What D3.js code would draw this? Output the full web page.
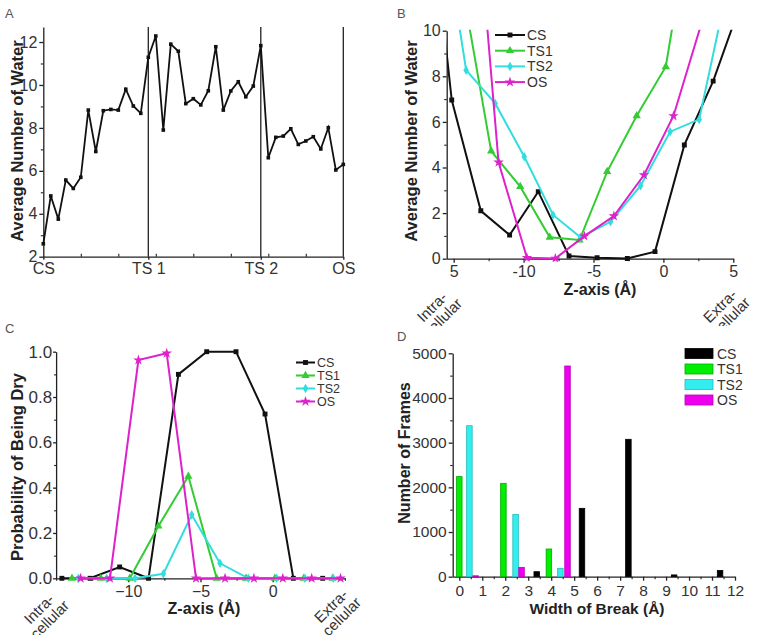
<!DOCTYPE html>
<html><head><meta charset="utf-8">
<script src="https://cdn.jsdelivr.net/npm/d3@7"></script>
<style>body{margin:0;background:#fff}svg{display:block}text{font-family:"Liberation Sans",Arial,sans-serif}</style>
</head><body><svg id="c" width="761" height="635"></svg>
<script>
// ---------- DATA ----------
const seriesNames = ["CS","TS1","TS2","OS"];
const lineColors = ["#111111","#33cc33","#33dddd","#dd22cc"];
const barColors = ["#000000","#00ee00","#33eeee","#ee00ee"];
const barStrokes = ["#000000","#00aa00","#22bbbb","#bb00bb"];

// Panel A
const aCategories = ["CS","TS 1","TS 2","OS"];
const aCategoryIndex = [0,14,29,40];
const aMinorTicks = [5,10,15,20,25,30,35];
const aWater = [2.6,4.83,3.75,5.57,5.18,5.7,8.83,6.9,8.8,8.86,8.83,9.8,9.02,8.68,11.29,12.28,7.9,11.9,11.57,9.13,9.36,9.07,9.73,11.78,8.83,9.72,10.15,9.45,9.95,11.83,6.61,7.56,7.62,7.96,7.23,7.39,7.59,7.02,8.01,6.04,6.3];
const aYTicks = [2,4,6,8,10,12];

// Panel B
const bCsX  = [-17.2,-15.14,-13.06,-11.0,-8.95,-6.75,-4.74,-2.58,-0.6,1.5,3.56,5.6];
const bCsY  = [18.6,6.96,2.1,1.04,2.94,0.12,0.04,0.01,0.31,4.99,7.79,11.3];
const bTs1X = [-14.4,-12.32,-10.24,-8.13,-6.0,-4.02,-1.91,0.17,2.25];
const bTs1Y = [12.0,4.72,3.16,0.94,0.82,3.82,6.27,8.42,16.1];
const bTs2X = [-16.2,-14.11,-12.03,-9.95,-7.89,-5.93,-3.78,-1.63,0.48,2.56,4.64];
const bTs2Y = [16.5,8.27,6.81,4.47,1.92,0.94,1.62,3.2,5.57,6.11,12.06];
const bOsX  = [-13.85,-11.79,-9.76,-7.73,-5.65,-3.54,-1.39,0.72,2.8];
const bOsY  = [19.3,4.23,0.04,0.01,0.99,1.87,3.67,6.26,10.48];
const bXTicks = [-15,-10,-5,0,5];
const bXTickLabels = ["5","-10","-5","0","5"];
const bYTicks = [0,2,4,6,8,10];

// Panel C
const cCsX  = [-14.6,-12.65,-10.6,-8.6,-6.53,-4.57,-2.54,-0.53,1.43,3.46];
const cCsY  = [0,0,0.05,0,0.9,1.0,1.0,0.725,0,0];
const cTs1X = [-13.9,-11.9,-9.9,-7.92,-5.84,-3.88,-1.85,0.15,2.15,4.15];
const cTs1Y = [0,0,0,0.23,0.45,0,0,0,0,0];
const cTs2X = [-13.45,-11.5,-9.53,-7.57,-5.61,-3.65,-1.69,0.27,2.23,4.19];
const cTs2Y = [0,0,0,0.02,0.28,0.066,0,0,0,0];
const cOsX  = [-13.3,-11.27,-9.3,-7.34,-5.31,-3.3,-1.3,0.7,2.7,4.7];
const cOsY  = [0,0,0.963,0.993,0,0,0,0,0,0];
const cXTicks = [-10,-5,0];
const cYTicks = [0,0.2,0.4,0.6,0.8,1.0];

// Panel D
const dCsX  = [3.37,5.34,7.36,9.35,11.35];
const dCsY  = [112,1530,3075,40,140];
const dTs1X = [0,1.92,3.9];
const dTs1Y = [2240,2090,620];
const dTs2X = [0.44,2.45,4.4];
const dTs2Y = [3380,1395,187];
const dOsX  = [0.71,2.71,4.71];
const dOsY  = [20,209,4716];
const dXTicks = [0,1,2,3,4,5,6,7,8,9,10,11,12];
const dYTicks = [0,1000,2000,3000,4000,5000];

// ---------- DRAW ----------
const svg = d3.select("#c");
const symbols = [d3.symbolSquare, d3.symbolTriangle, d3.symbolDiamond, d3.symbolStar];
const symSizes = [24, 30, 26, 34];

function styleAxis(g, fs){
  g.selectAll("path,line").attr("stroke","#222").attr("stroke-width",1.3);
  g.selectAll("text").attr("fill","#333").style("font-size",(fs||16)+"px");
}
function minor(g){ g.select(".domain").remove(); g.selectAll("line").attr("stroke","#222").attr("stroke-width",1.1); }
function rotLabel(cx, cy, l1, l2){
  const t = svg.append("text").attr("transform",`translate(${cx},${cy}) rotate(-45)`)
    .attr("text-anchor","middle").attr("fill","#333").style("font-size","15px");
  t.append("tspan").attr("x",0).attr("dy","0.35em").text(l1);
  t.append("tspan").attr("x",0).attr("dy","1.0em").text(l2);
  return t;
}
function yTitle(cx, cy, txt, fs){
  svg.append("text").attr("transform",`translate(${cx},${cy}) rotate(-90)`)
    .attr("text-anchor","middle").attr("dy","0.35em").attr("font-weight","bold")
    .attr("fill","#222").style("font-size",(fs||16.5)+"px").text(txt);
}
function xTitle(cx, y, txt, fs){
  svg.append("text").attr("x",cx).attr("y",y).attr("text-anchor","middle").attr("font-weight","bold")
    .attr("fill","#222").style("font-size",(fs||16)+"px").text(txt);
}
function panelLetter(x,y,t){
  svg.append("text").attr("x",x).attr("y",y).attr("fill","#555").style("font-size","13px").text(t);
}

// ===== Panel A =====
{
  const x = d3.scaleLinear().domain([0,40]).range([43.3,343.3]);
  const y = d3.scaleLinear().domain([2,12.7]).range([256.7,27]);
  const gx = svg.append("g").attr("transform",`translate(0,${y(2)})`)
    .call(d3.axisBottom(x).tickValues(aCategoryIndex).tickFormat((d,i)=>aCategories[i]).tickSize(3).tickPadding(3).tickSizeOuter(0));
  styleAxis(gx);
  svg.append("g").attr("transform",`translate(0,${y(2)})`)
    .call(d3.axisTop(x).tickValues(aMinorTicks).tickFormat("").tickSize(3)).call(minor);
  const gy = svg.append("g").attr("transform",`translate(${x(0)},0)`)
    .call(d3.axisLeft(y).tickValues(aYTicks).tickSize(4).tickPadding(2).tickSizeOuter(0));
  styleAxis(gy);
  svg.append("g").attr("transform",`translate(${x(0)},0)`)
    .call(d3.axisLeft(y).tickValues([3,5,7,9,11]).tickFormat("").tickSize(2.5)).call(minor);
  svg.selectAll(".vlA").data(aCategoryIndex.slice(1)).enter().append("line")
    .attr("x1",d=>x(d)).attr("x2",d=>x(d)).attr("y1",y(2)).attr("y2",y(12.7))
    .attr("stroke","#222").attr("stroke-width",1.3);
  svg.append("path").datum(aWater)
    .attr("d", d3.line().x((d,i)=>x(i)).y(d=>y(d)))
    .attr("fill","none").attr("stroke","#111").attr("stroke-width",1.8);
  svg.selectAll(".ptA").data(aWater).enter().append("path")
    .attr("transform",(d,i)=>`translate(${x(i)},${y(d)})`)
    .attr("d", d3.symbol().type(d3.symbolSquare).size(13)).attr("fill","#111");
  yTitle(17,141,"Average Number of Water");
  panelLetter(5,18,"A");
}

// ===== Panel B =====
{
  const x = d3.scaleLinear().domain([-15.5,5]).range([446.7,733.3]);
  const y = d3.scaleLinear().domain([0,10]).range([258.7,30.7]);
  svg.append("clipPath").attr("id","clipB").append("rect")
    .attr("x",x(-15.5)).attr("y",y(10)-1).attr("width",x(5)-x(-15.5)).attr("height",y(0)-y(10)+4);
  const gx = svg.append("g").attr("transform",`translate(0,${y(0)})`)
    .call(d3.axisBottom(x).tickValues(bXTicks).tickFormat((d,i)=>bXTickLabels[i]).tickSize(4).tickPadding(3).tickSizeOuter(0));
  styleAxis(gx);
  svg.append("g").attr("transform",`translate(0,${y(0)})`)
    .call(d3.axisBottom(x).tickValues([-12.5,-7.5,-2.5,2.5]).tickFormat("").tickSize(2.5)).call(minor);
  const gy = svg.append("g").attr("transform",`translate(${x(-15.5)},0)`)
    .call(d3.axisLeft(y).tickValues(bYTicks).tickSize(4).tickPadding(2).tickSizeOuter(0));
  styleAxis(gy);
  svg.append("g").attr("transform",`translate(${x(-15.5)},0)`)
    .call(d3.axisLeft(y).tickValues([1,3,5,7,9]).tickFormat("").tickSize(2.5)).call(minor);
  const series = [[bCsX,bCsY],[bTs1X,bTs1Y],[bTs2X,bTs2Y],[bOsX,bOsY]];
  const plot = svg.append("g").attr("clip-path","url(#clipB)");
  series.forEach(([xs,ys],k)=>{
    const pts = xs.map((v,i)=>[v,ys[i]]);
    plot.append("path").datum(pts).attr("d",d3.line().x(d=>x(d[0])).y(d=>y(d[1])))
      .attr("fill","none").attr("stroke",lineColors[k]).attr("stroke-width",2);
    plot.selectAll(null).data(pts).enter().append("path")
      .attr("transform",d=>`translate(${x(d[0])},${y(d[1])})`)
      .attr("d",d3.symbol().type(symbols[k]).size(symSizes[k])).attr("fill",lineColors[k]);
  });
  const lg = svg.append("g");
  seriesNames.forEach((n,k)=>{
    const yy = 35 + k*15.7;
    lg.append("line").attr("x1",495).attr("x2",525).attr("y1",yy).attr("y2",yy).attr("stroke",lineColors[k]).attr("stroke-width",2);
    lg.append("path").attr("transform",`translate(510,${yy})`).attr("d",d3.symbol().type(symbols[k]).size(symSizes[k])).attr("fill",lineColors[k]);
    lg.append("text").attr("x",527).attr("y",yy+4.8).attr("fill","#333").style("font-size","14px").text(n);
  });
  yTitle(411.7,141,"Average Number of Water");
  xTitle(600,295,"Z-axis (Å)");
  svg.append("clipPath").attr("id","clipBL").append("rect").attr("x",380).attr("y",260).attr("width",381).attr("height",66);
  const gl = svg.append("g").attr("clip-path","url(#clipBL)");
  gl.node().appendChild(rotLabel(432,307,"Intra-","cellular").node());
  gl.node().appendChild(rotLabel(720,306,"Extra-","cellular").node());
  panelLetter(397,18,"B");
}

// ===== Panel C =====
{
  const x = d3.scaleLinear().domain([-15,5]).range([56.1,344.9]);
  const y = d3.scaleLinear().domain([0,1]).range([578.3,351.7]);
  const gx = svg.append("g").attr("transform",`translate(0,${y(0)})`)
    .call(d3.axisBottom(x).tickValues(cXTicks).tickSize(4).tickPadding(3).tickSizeOuter(0));
  styleAxis(gx);
  svg.append("g").attr("transform",`translate(0,${y(0)})`)
    .call(d3.axisBottom(x).tickValues([-15,-12.5,-7.5,-2.5,2.5,5]).tickFormat("").tickSize(2.5)).call(minor);
  const gy = svg.append("g").attr("transform",`translate(${x(-15)},0)`)
    .call(d3.axisLeft(y).tickValues(cYTicks).tickFormat(d3.format(".1f")).tickSize(3).tickPadding(1).tickSizeOuter(0));
  styleAxis(gy,17);
  svg.append("g").attr("transform",`translate(${x(-15)},0)`)
    .call(d3.axisLeft(y).tickValues([0.1,0.3,0.5,0.7,0.9]).tickFormat("").tickSize(2)).call(minor);
  const series = [[cCsX,cCsY],[cTs1X,cTs1Y],[cTs2X,cTs2Y],[cOsX,cOsY]];
  series.forEach(([xs,ys],k)=>{
    const pts = xs.map((v,i)=>[v,ys[i]]);
    svg.append("path").datum(pts).attr("d",d3.line().x(d=>x(d[0])).y(d=>y(d[1])))
      .attr("fill","none").attr("stroke",lineColors[k]).attr("stroke-width",2);
    svg.selectAll(null).data(pts).enter().append("path")
      .attr("transform",d=>`translate(${x(d[0])},${y(d[1])})`)
      .attr("d",d3.symbol().type(symbols[k]).size(symSizes[k])).attr("fill",lineColors[k]);
  });
  const lg = svg.append("g");
  seriesNames.forEach((n,k)=>{
    const yy = 362.5 + k*13;
    lg.append("line").attr("x1",296).attr("x2",315).attr("y1",yy).attr("y2",yy).attr("stroke",lineColors[k]).attr("stroke-width",2);
    lg.append("path").attr("transform",`translate(305.5,${yy})`).attr("d",d3.symbol().type(symbols[k]).size(symSizes[k])).attr("fill",lineColors[k]);
    lg.append("text").attr("x",317).attr("y",yy+4.3).attr("fill","#333").style("font-size","12.5px").text(n);
  });
  yTitle(17,467,"Probability of Being Dry");
  xTitle(204,614,"Z-axis (Å)");
  rotLabel(39,609,"Intra-","cellular");
  rotLabel(331,606,"Extra-","cellular");
  panelLetter(5,333,"C");
}

// ===== Panel D =====
{
  const x = d3.scaleLinear().domain([-0.287,12]).range([452.7,735]);
  const y = d3.scaleLinear().domain([0,5000]).range([576.7,353.3]);
  const gx = svg.append("g").attr("transform",`translate(0,${y(0)})`)
    .call(d3.axisBottom(x).tickValues(dXTicks).tickSize(4).tickPadding(4).tickSizeOuter(0));
  styleAxis(gx,15.5);
  svg.append("g").attr("transform",`translate(0,${y(0)})`)
    .call(d3.axisBottom(x).tickValues(dXTicks.slice(0,-1).map(d=>d+0.5)).tickFormat("").tickSize(2.5)).call(minor);
  const gy = svg.append("g").attr("transform",`translate(${x(-0.287)},0)`)
    .call(d3.axisLeft(y).tickValues(dYTicks).tickFormat(d3.format("d")).tickSize(4).tickPadding(2).tickSizeOuter(0));
  styleAxis(gy,15.5);
  svg.append("g").attr("transform",`translate(${x(-0.287)},0)`)
    .call(d3.axisLeft(y).tickValues([500,1500,2500,3500,4500]).tickFormat("").tickSize(2.5)).call(minor);
  const bw = 0.24;
  const series = [[dCsX,dCsY],[dTs1X,dTs1Y],[dTs2X,dTs2Y],[dOsX,dOsY]];
  series.forEach(([xs,ys],k)=>{
    const pts = xs.map((v,i)=>[v,ys[i]]);
    svg.selectAll(null).data(pts).enter().append("rect")
      .attr("x",d=>x(d[0]-bw/2)).attr("width",x(bw)-x(0))
      .attr("y",d=>y(d[1])).attr("height",d=>y(0)-y(d[1]))
      .attr("fill",barColors[k]).attr("stroke",barStrokes[k]).attr("stroke-width",0.8);
  });
  const lg = svg.append("g");
  seriesNames.forEach((n,k)=>{
    const yy = 353.5 + k*15.5;
    lg.append("rect").attr("x",685).attr("y",yy-5).attr("width",28).attr("height",10)
      .attr("fill",barColors[k]).attr("stroke",barStrokes[k]).attr("stroke-width",0.8);
    lg.append("text").attr("x",717).attr("y",yy+5).attr("fill","#333").style("font-size","14px").text(n);
  });
  yTitle(404,453,"Number of Frames",16);
  xTitle(597,614,"Width of Break (Å)",15.5);
  panelLetter(397,341,"D");
}
</script></body></html>
